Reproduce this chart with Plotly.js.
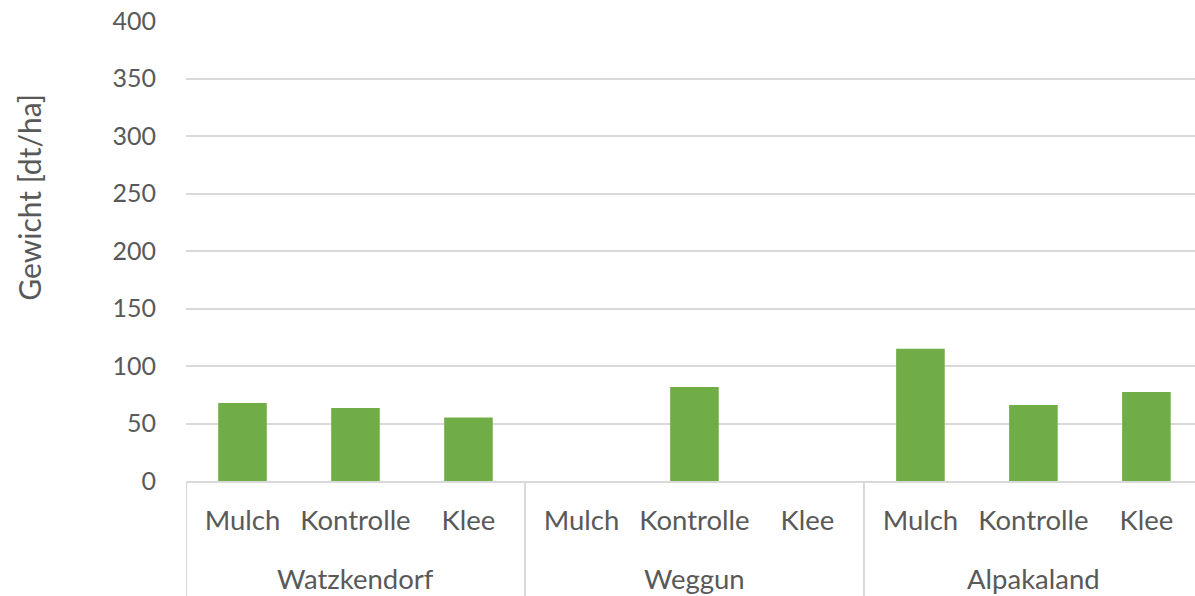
<!DOCTYPE html>
<html>
<head>
<meta charset="utf-8">
<script src="https://cdn.plot.ly/plotly-3.0.1.min.js"></script>
<style>
  html, body { margin: 0; padding: 0; background: #fff; }
  #chart { width: 1195px; height: 596px; }
</style>
</head>
<body>
<div id="chart"></div>
<script>
// Standorte und Varianten
var sites = ['Watzkendorf', 'Weggun', 'Alpakaland'];
var treatments = ['Mulch', 'Kontrolle', 'Klee'];
// Gewicht [dt/ha], je Standort: Mulch, Kontrolle, Klee
var watzkendorf = [67.8, 63.4, 55.2];
var weggun = [0, 81.8, 0];
var alpakaland = [115, 66, 77.4];

var yTicks = [0, 50, 100, 150, 200, 250, 300, 350, 400];

var textColor = '#595959';
var gridColor = '#D9D9D9';

var siteValues = [watzkendorf, weggun, alpakaland];
var xIds = [], xText = [], yVals = [];
sites.forEach(function (site, i) {
    treatments.forEach(function (t, j) {
        xIds.push(site + ' ' + t);
        xText.push(t);
        yVals.push(siteValues[i][j]);
    });
});

var trace = {
    x: xIds,
    y: yVals,
    type: 'bar',
    marker: { color: '#70AD47', line: { width: 0 } },
    hoverinfo: 'x+y'
};

// Standortnamen und Trennlinien unter der Achse
var annotations = sites.map(function (site, i) {
    return {
        x: xIds[i * treatments.length + 1],
        xref: 'x',
        y: -0.211,
        yref: 'paper',
        yanchor: 'middle',
        text: site,
        showarrow: false,
        font: { size: 27.5, color: textColor }
    };
});
// y-Achsentitel (sitzt im Original oberhalb der Mitte)
annotations.push({
    text: 'Gewicht [dt/ha]',
    textangle: -90,
    xref: 'paper', yref: 'paper',
    x: -0.155, y: 0.617,
    xanchor: 'center', yanchor: 'middle',
    showarrow: false,
    font: { size: 30, color: textColor }
});

var shapes = sites.map(function (site, i) {
    var pos = i * treatments.length - 0.5;
    return {
        type: 'line',
        xref: 'x', yref: 'paper',
        x0: pos, x1: pos, y0: 0, y1: -0.27,
        line: { color: gridColor, width: 2 }
    };
});

var layout = {
    width: 1195,
    height: 596,
    margin: { l: 186, r: 0, t: 21, b: 115 },
    paper_bgcolor: '#fff',
    plot_bgcolor: '#fff',
    font: { family: 'Lato, sans-serif', size: 25, color: textColor },
    showlegend: false,
    bargap: 0.57,
    annotations: annotations,
    shapes: shapes,
    xaxis: {
        type: 'category',
        range: [-0.5, 8.43],
        tickvals: xIds,
        ticktext: xText,
        showline: true,
        linecolor: gridColor,
        linewidth: 2,
        showgrid: false,
        ticks: 'outside',
        ticklen: 14,
        tickcolor: 'rgba(0,0,0,0)',
        tickfont: { size: 27.5, color: textColor }
    },
    yaxis: {
        range: [0, 400],
        tickvals: yTicks,
        showgrid: true,
        gridcolor: gridColor,
        gridwidth: 2,
        zeroline: false,
        showline: false,
        ticks: 'outside',
        ticklen: 24,
        tickcolor: 'rgba(0,0,0,0)',
        tickfont: { size: 25, color: textColor }
    }
};

Plotly.newPlot('chart', [trace], layout, { displayModeBar: false, staticPlot: true });
</script>
</body>
</html>
